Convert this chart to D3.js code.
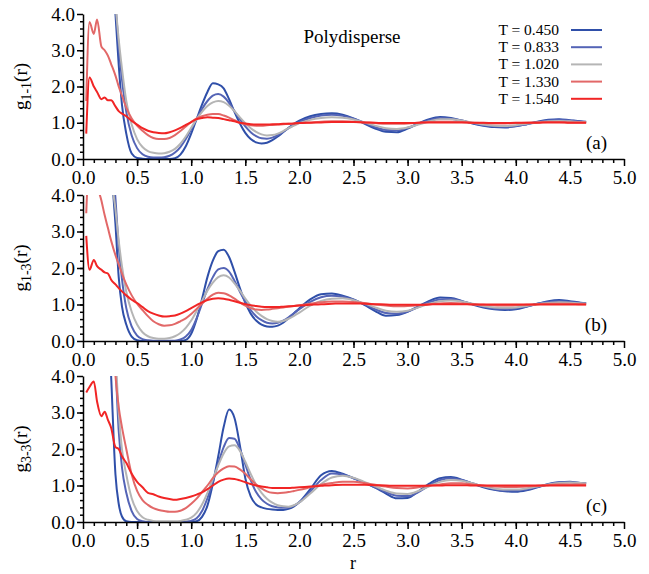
<!DOCTYPE html>
<html>
<head>
<meta charset="utf-8">
<script src="https://cdn.jsdelivr.net/npm/d3@7"></script>
<style>
  body { margin: 0; background: #fff; }
  text { font-family: "Liberation Serif", "Times New Roman", serif; fill: #000; }
</style>
</head>
<body>
<div id="chart"></div>
<script>
var svgWidth = 649;
var svgHeight = 574;

// r grid shared by every curve
var rValues = [
  0.03, 0.06, 0.1, 0.13, 0.17, 0.2, 0.23, 0.26, 0.3, 0.33, 0.36, 0.4,
  0.45, 0.5, 0.55, 0.6, 0.65, 0.7, 0.75, 0.8, 0.85, 0.9, 0.95, 1.0,
  1.05, 1.1, 1.15, 1.2, 1.25, 1.3, 1.35, 1.4, 1.45, 1.5, 1.55, 1.6, 1.65, 1.7, 1.75, 1.8, 1.85, 1.9, 1.95, 2.0,
  2.1, 2.2, 2.3, 2.4, 2.5, 2.6, 2.7, 2.8, 2.9, 3.0, 3.1, 3.2, 3.3, 3.4, 3.5, 3.6, 3.7, 3.8, 3.9, 4.0, 4.1, 4.2, 4.3, 4.4, 4.5, 4.6, 4.65
];

var tempLabels = ["T = 0.450", "T = 0.833", "T = 1.020", "T = 1.330", "T = 1.540"];
var tempColors = ["#2f4fa9", "#5464b6", "#b5b5b5", "#e26868", "#f12525"];

var xTicks = [0, 0.5, 1, 1.5, 2, 2.5, 3, 3.5, 4, 4.5, 5];
var yTicks = [0, 1, 2, 3, 4];

// g 1-1 (panel a)
var g11_450 = [
  null, null, null, null, null, null, null, 5.6, 4.0, 2.6, 1.5, 0.7,
  0.15, 0.03, 0.01, 0, 0, 0, 0, 0, 0.02, 0.12, 0.35, 0.7,
  1.1, 1.5, 1.85, 2.09, 2.06, 1.95, 1.65, 1.3, 0.98, 0.72, 0.55, 0.46, 0.43, 0.45, 0.52, 0.62, 0.74, 0.86, 0.97, 1.06,
  1.18, 1.24, 1.26, 1.22, 1.12, 0.98, 0.84, 0.75, 0.74, 0.84, 0.98, 1.1, 1.16, 1.13, 1.06, 0.98, 0.92, 0.88, 0.87, 0.9, 0.96, 1.03, 1.08, 1.1, 1.07, 1.04, 1.03
];
var g11_833 = [
  null, null, null, null, null, null, null, 6.0, 4.3, 3.1, 2.2, 1.3,
  0.65, 0.3, 0.13, 0.06, 0.04, 0.04, 0.05, 0.09, 0.18, 0.33, 0.55, 0.82,
  1.1, 1.38, 1.6, 1.75, 1.79, 1.72, 1.55, 1.32, 1.1, 0.9, 0.74, 0.63, 0.57, 0.56, 0.59, 0.66, 0.75, 0.85, 0.94, 1.02,
  1.13, 1.2, 1.22, 1.19, 1.11, 1.0, 0.88, 0.8, 0.79, 0.86, 0.97, 1.07, 1.13, 1.11, 1.06, 0.99, 0.93, 0.9, 0.89, 0.91, 0.96, 1.02, 1.06, 1.08, 1.06, 1.03, 1.02
];
var g11_1020 = [
  null, null, null, null, null, null, null, 6.0, 4.3, 3.3, 2.5, 1.6,
  0.95, 0.55, 0.33, 0.22, 0.17, 0.15, 0.16, 0.2, 0.28, 0.42, 0.62, 0.86,
  1.1, 1.3, 1.46, 1.56, 1.6, 1.57, 1.47, 1.32, 1.15, 0.99, 0.85, 0.75, 0.68, 0.65, 0.66, 0.7, 0.77, 0.85, 0.92, 0.99,
  1.08, 1.13, 1.15, 1.14, 1.09, 1.01, 0.92, 0.85, 0.83, 0.87, 0.95, 1.04, 1.1, 1.1, 1.06, 1.0, 0.95, 0.92, 0.91, 0.93, 0.97, 1.01, 1.04, 1.05, 1.04, 1.02, 1.02
];
var g11_1330 = [
  1.6, 3.78, 3.45, 3.85, 3.1, 3.0, 2.85, 2.62, 2.3, 2.0, 1.75, 1.42,
  1.12, 0.92, 0.78, 0.66, 0.58, 0.55, 0.55, 0.58, 0.66, 0.77, 0.9, 1.02,
  1.12, 1.18, 1.22, 1.24, 1.24, 1.2, 1.14, 1.07, 1.0, 0.96, 0.93, 0.92, 0.92, 0.93, 0.94, 0.95, 0.96, 0.97, 0.98, 0.99,
  1.01, 1.03, 1.04, 1.04, 1.03, 1.01, 0.99, 0.97, 0.97, 0.98, 1.0, 1.02, 1.03, 1.03, 1.02, 1.0, 0.99, 0.98, 0.98, 0.99, 1.0, 1.01, 1.02, 1.02, 1.01, 1.01, 1.01
];
var g11_1540 = [
  0.7, 2.25, 2.0, 1.85, 1.65, 1.7, 1.62, 1.62, 1.45, 1.32, 1.25, 1.18,
  1.05, 0.95, 0.85, 0.78, 0.74, 0.72, 0.71, 0.74, 0.79, 0.86, 0.94, 1.02,
  1.1, 1.13, 1.15, 1.14, 1.13, 1.1, 1.07, 1.04, 1.0, 0.98, 0.96, 0.95, 0.95, 0.95, 0.96, 0.96, 0.97, 0.97, 0.98, 0.99,
  1.0, 1.01, 1.02, 1.02, 1.02, 1.01, 1.0, 0.99, 0.99, 0.99, 1.0, 1.01, 1.01, 1.01, 1.01, 1.0, 1.0, 0.99, 0.99, 1.0, 1.0, 1.0, 1.01, 1.01, 1.0, 1.0, 1.0
];

// g 1-3 (panel b)
var g13_450 = [
  null, null, null, null, null, null, 6.0, 4.8, 3.2, 1.75, 0.95, 0.45,
  0.12, 0.02, 0, 0, 0, 0, 0, 0, 0, 0, 0.03, 0.2,
  0.6, 1.15, 1.75, 2.2, 2.46, 2.5, 2.3, 1.9, 1.45, 1.05, 0.75, 0.56, 0.45, 0.4, 0.39, 0.42, 0.5, 0.62, 0.76, 0.9,
  1.14, 1.28, 1.3, 1.24, 1.14, 0.99, 0.82, 0.69, 0.71, 0.8, 0.95, 1.1, 1.19, 1.18, 1.1, 1.0, 0.92, 0.87, 0.85, 0.87, 0.94, 1.02, 1.09, 1.12, 1.09, 1.05, 1.04
];
var g13_833 = [
  null, null, null, null, null, null, null, 5.5, 3.9, 2.6, 1.7, 0.9,
  0.4, 0.15, 0.05, 0.02, 0.01, 0.01, 0.01, 0.01, 0.01, 0.04, 0.12, 0.3,
  0.62, 1.02, 1.42, 1.75, 1.96, 2.0, 1.9, 1.65, 1.35, 1.08, 0.85, 0.68, 0.57, 0.5, 0.48, 0.5, 0.56, 0.65, 0.76, 0.87,
  1.07, 1.2, 1.24, 1.21, 1.13, 1.01, 0.87, 0.77, 0.75, 0.81, 0.93, 1.06, 1.14, 1.15, 1.09, 1.01, 0.94, 0.89, 0.88, 0.9, 0.95, 1.02, 1.07, 1.09, 1.07, 1.04, 1.03
];
var g13_1020 = [
  null, null, null, null, null, null, 6.0, 4.6, 3.6, 2.75, 2.05, 1.35,
  0.8, 0.45, 0.24, 0.13, 0.08, 0.06, 0.06, 0.08, 0.13, 0.22, 0.36, 0.56,
  0.82, 1.1, 1.38, 1.6, 1.75, 1.8, 1.74, 1.58, 1.38, 1.16, 0.97, 0.81, 0.69, 0.6, 0.55, 0.53, 0.55, 0.61, 0.69, 0.78,
  0.97, 1.1, 1.16, 1.17, 1.12, 1.03, 0.92, 0.83, 0.8, 0.83, 0.92, 1.02, 1.09, 1.11, 1.08, 1.02, 0.96, 0.92, 0.91, 0.92, 0.96, 1.01, 1.04, 1.06, 1.05, 1.03, 1.03
];
var g13_1330 = [
  3.5, 5.0, 4.9, 4.3, 3.85, 3.45, 3.1, 2.75, 2.35, 2.1, 1.85, 1.55,
  1.25, 1.02, 0.85, 0.68, 0.54, 0.46, 0.42, 0.43, 0.47, 0.54, 0.62, 0.74,
  0.88, 1.02, 1.16, 1.27, 1.32, 1.31, 1.25, 1.16, 1.06, 0.97, 0.9, 0.86, 0.85, 0.86, 0.88, 0.9, 0.92, 0.94, 0.96, 0.98,
  1.02, 1.06, 1.08, 1.08, 1.07, 1.04, 1.0, 0.97, 0.95, 0.96, 0.98, 1.01, 1.03, 1.04, 1.03, 1.01, 0.99, 0.98, 0.97, 0.98, 0.99, 1.01, 1.02, 1.02, 1.02, 1.01, 1.01
];
var g13_1540 = [
  2.88, 1.95, 2.22, 2.05, 1.95, 1.88, 1.85, 1.68, 1.55, 1.45, 1.36, 1.25,
  1.13, 1.04, 0.93, 0.82, 0.75, 0.7, 0.67, 0.68, 0.7, 0.75, 0.82, 0.9,
  0.98, 1.06, 1.12, 1.16, 1.17, 1.16, 1.13, 1.09, 1.05, 1.01, 0.98, 0.96, 0.94, 0.93, 0.93, 0.93, 0.94, 0.95, 0.96, 0.97,
  0.99, 1.01, 1.02, 1.03, 1.03, 1.02, 1.01, 1.0, 0.99, 0.99, 0.99, 1.0, 1.01, 1.01, 1.01, 1.0, 1.0, 1.0, 1.0, 1.0, 1.0, 1.0, 1.0, 1.0, 1.0, 1.0, 1.0
];

// g 3-3 (panel c)
var g33_450 = [
  null, null, null, null, null, null, 6.0, 4.0, 1.3, 0.5, 0.15, 0.02,
  0, 0, 0, 0, 0, 0, 0, 0, 0, 0, 0, 0,
  0.02, 0.14, 0.45, 1.05, 1.8, 2.6, 3.08, 2.85, 2.1, 1.2, 0.7, 0.48, 0.4, 0.36, 0.34, 0.33, 0.33, 0.36, 0.43, 0.55,
  0.9, 1.28, 1.4, 1.32, 1.2, 1.08, 0.94, 0.78, 0.65, 0.66, 0.84, 1.05, 1.2, 1.23, 1.16, 1.05, 0.95, 0.88, 0.84, 0.83, 0.87, 0.95, 1.04, 1.09, 1.1, 1.07, 1.06
];
var g33_833 = [
  null, null, null, null, null, null, null, 6.0, 4.3, 2.5, 1.5, 0.8,
  0.3, 0.08, 0.02, 0, 0, 0, 0, 0, 0, 0, 0.01, 0.03,
  0.1, 0.3, 0.65, 1.1, 1.6, 2.05, 2.3, 2.28, 2.0, 1.58, 1.15, 0.82, 0.62, 0.5, 0.43, 0.4, 0.39, 0.4, 0.45, 0.54,
  0.83, 1.15, 1.33, 1.3, 1.2, 1.08, 0.95, 0.82, 0.72, 0.71, 0.82, 1.0, 1.15, 1.2, 1.15, 1.06, 0.97, 0.9, 0.86, 0.86, 0.89, 0.96, 1.03, 1.08, 1.09, 1.07, 1.06
];
var g33_1020 = [
  null, null, null, null, null, null, null, 6.0, 4.6, 3.0, 2.0, 1.3,
  0.65, 0.3, 0.13, 0.06, 0.03, 0.02, 0.02, 0.02, 0.02, 0.03, 0.06, 0.12,
  0.25, 0.48, 0.8, 1.18, 1.55, 1.88, 2.07, 2.1, 1.95, 1.65, 1.32, 1.02, 0.8, 0.64, 0.53, 0.46, 0.43, 0.42, 0.46, 0.54,
  0.78, 1.04, 1.22, 1.27, 1.21, 1.1, 0.98, 0.86, 0.78, 0.77, 0.85, 0.98, 1.1, 1.15, 1.13, 1.06, 0.98, 0.92, 0.89, 0.89, 0.92, 0.97, 1.03, 1.07, 1.08, 1.07, 1.06
];
var g33_1330 = [
  null, null, null, null, null, null, null, 6.0, 4.0, 3.15, 2.6, 2.0,
  1.3, 0.85, 0.6, 0.47, 0.38, 0.33, 0.3, 0.28, 0.28, 0.31, 0.38, 0.5,
  0.64, 0.82, 1.0, 1.2, 1.36, 1.47, 1.53, 1.52, 1.44, 1.32, 1.17, 1.03, 0.92, 0.84, 0.8, 0.79, 0.8, 0.82, 0.85, 0.88,
  0.95, 1.02, 1.07, 1.1, 1.1, 1.07, 1.02, 0.97, 0.93, 0.92, 0.95, 0.99, 1.03, 1.06, 1.06, 1.03, 1.0, 0.97, 0.96, 0.96, 0.97, 0.99, 1.01, 1.03, 1.03, 1.03, 1.03
];
var g33_1540 = [
  3.55, 3.7, 3.85, 3.3, 2.9, 3.02, 2.8, 2.58, 2.05, 2.0, 1.8, 1.62,
  1.32, 1.1, 0.95, 0.8, 0.76, 0.7, 0.66, 0.63, 0.61, 0.63, 0.66, 0.7,
  0.75, 0.81, 0.9, 1.0, 1.1, 1.16, 1.19, 1.18, 1.14, 1.09, 1.04, 1.0, 0.97, 0.95, 0.93, 0.93, 0.93, 0.93, 0.94, 0.95,
  0.97, 0.99, 1.01, 1.02, 1.02, 1.02, 1.01, 1.0, 0.99, 0.99, 0.99, 1.0, 1.0, 1.01, 1.01, 1.0, 1.0, 1.0, 1.0, 1.0, 1.0, 1.0, 1.0, 1.0, 1.0, 1.0, 1.0
];

var panels = [
  { tag: "(a)", sub: "1-1", top: 14, bottom: 159, series: [g11_450, g11_833, g11_1020, g11_1330, g11_1540] },
  { tag: "(b)", sub: "1-3", top: 195, bottom: 341, series: [g13_450, g13_833, g13_1020, g13_1330, g13_1540] },
  { tag: "(c)", sub: "3-3", top: 376, bottom: 522, series: [g33_450, g33_833, g33_1020, g33_1330, g33_1540] }
];

var left = 83;
var right = 624;

var svg = d3.select("#chart")
  .append("svg")
  .attr("width", svgWidth)
  .attr("height", svgHeight);

var xScale = d3.scaleLinear()
  .domain([0, 5])
  .range([left, right]);

panels.forEach(function(p, i) {

  var yScale = d3.scaleLinear()
    .domain([0, 4])
    .range([p.bottom, p.top]);

  // clip so curves stop at the top of the frame
  svg.append("clipPath")
    .attr("id", "clip" + i)
    .append("rect")
    .attr("x", left)
    .attr("y", p.top)
    .attr("width", right - left)
    .attr("height", p.bottom - p.top + 1);

  var line = d3.line()
    .defined(d => d[1] != null)
    .x(d => xScale(d[0]))
    .y(d => yScale(d[1]))
    .curve(d3.curveMonotoneX);

  var curves = svg.append("g")
    .attr("clip-path", "url(#clip" + i + ")");

  p.series.forEach(function(vals, j) {
    var pts = rValues.map((r, k) => [r, vals[k]]);
    curves.append("path")
      .attr("d", line(pts))
      .attr("fill", "none")
      .attr("stroke", tempColors[j])
      .attr("stroke-width", 2)
      .attr("stroke-linejoin", "round");
  });

  // minor ticks
  svg.append("g")
    .attr("transform", `translate(${left}, 0)`)
    .call(d3.axisLeft(yScale).tickValues(d3.range(0.2, 4, 0.2)).tickSize(3).tickFormat(""))
    .call(g => g.select(".domain").remove());

  svg.append("g")
    .attr("transform", `translate(0, ${p.bottom})`)
    .call(d3.axisBottom(xScale).tickValues(d3.range(0.1, 5, 0.1)).tickSize(4).tickFormat(""))
    .call(g => g.select(".domain").remove());

  // major axes
  var yAxis = svg.append("g")
    .attr("transform", `translate(${left}, 0)`)
    .call(d3.axisLeft(yScale).tickValues(yTicks).tickSize(6).tickSizeOuter(0).tickPadding(2).tickFormat(d3.format(".1f")));

  var xAxis = svg.append("g")
    .attr("transform", `translate(0, ${p.bottom})`)
    .call(d3.axisBottom(xScale).tickValues(xTicks).tickSize(7).tickSizeOuter(0).tickPadding(5).tickFormat(d3.format(".1f")));

  svg.selectAll(".tick line").attr("stroke", "#000").attr("stroke-width", 1.5);
  svg.selectAll(".domain").attr("stroke", "#000").attr("stroke-width", 1.5);

  [yAxis, xAxis].forEach(function(ax) {
    ax.selectAll("text")
      .attr("font-family", "Liberation Serif, serif")
      .attr("font-size", "19px")
      .attr("fill", "#000");
  });

  // y label g_sub(r)
  var yl = svg.append("text")
    .attr("transform", `translate(27, ${(p.top + p.bottom) / 2}) rotate(-90)`)
    .attr("text-anchor", "middle")
    .attr("font-size", "19px");
  yl.append("tspan").text("g");
  yl.append("tspan").attr("font-size", "14px").attr("dy", "4").text(p.sub);
  yl.append("tspan").attr("dy", "-4").text("(r)");

  // panel tag
  svg.append("text")
    .attr("x", 607)
    .attr("y", p.bottom - 10)
    .attr("text-anchor", "end")
    .attr("font-size", "19px")
    .text(p.tag);
});

svg.append("text")
  .attr("x", 352)
  .attr("y", 43)
  .attr("text-anchor", "middle")
  .attr("font-size", "19px")
  .text("Polydisperse");

// legend
var legend = svg.append("g");
tempLabels.forEach(function(t, j) {
  var ly = 30 + j * 17.2;
  legend.append("text")
    .attr("x", 559)
    .attr("y", ly + 5)
    .attr("text-anchor", "end")
    .attr("font-size", "15.5px")
    .text(t);
  legend.append("line")
    .attr("x1", 571)
    .attr("x2", 602)
    .attr("y1", ly)
    .attr("y2", ly)
    .attr("stroke", tempColors[j])
    .attr("stroke-width", 2);
});

svg.append("text")
  .attr("x", 353)
  .attr("y", 569)
  .attr("text-anchor", "middle")
  .attr("font-size", "18px")
  .text("r");
</script>
</body>
</html>
